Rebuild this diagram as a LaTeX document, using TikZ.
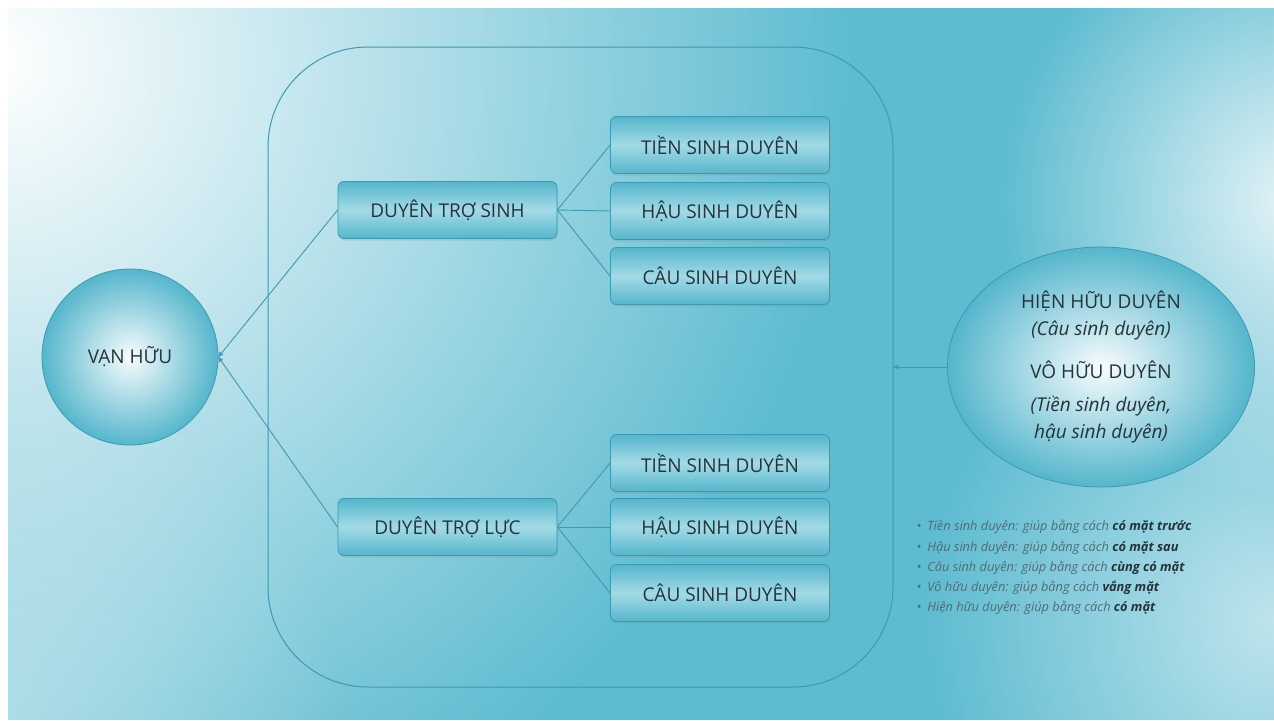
\documentclass[tikz,border=0pt]{standalone}
\usepackage{fontspec}
\setmainfont{Open Sans}
\usetikzlibrary{positioning, shapes.geometric, arrows, shadows, fadings}
\definecolor{myteal}{HTML}{5EBCD1}
\definecolor{boxteal}{HTML}{55B6CC}
\definecolor{mydark}{HTML}{3C9AB2}
\definecolor{mylight}{HTML}{A3DAE6}
\definecolor{mytext}{HTML}{24343A}
\definecolor{mygray}{HTML}{4E6C76}
\tikzfading[name=glow, inner color=transparent!0, outer color=transparent!100]

\begin{document}
\begin{tikzpicture}[x=1pt, y=-1pt,
    conn/.style={draw=mydark, line width=0.9pt},
    duyenbox/.style={draw=mydark, line width=0.8pt, rounded corners=6pt,
        minimum width=219pt, minimum height=57pt,
        top color=boxteal, bottom color=boxteal, middle color=mylight,
        text=mytext, font=\fontsize{19}{22}\selectfont,
        drop shadow={opacity=0.2, shadow xshift=1pt, shadow yshift=-2pt}},
    bubble/.style={draw=mydark, line width=0.8pt, inner color=white!92!mylight, outer color=boxteal,
        text=mytext, font=\fontsize{19}{27}\selectfont, align=center}]

    % background
    \fill[white] (0,0) rectangle (1274,720);
    \begin{scope}
        \clip (8,8) rectangle (1274,720);
        \fill[myteal] (8,8) rectangle (1274,720);
        \fill[white, path fading=glow] (0,60) circle (850);
        \fill[white, path fading=glow, opacity=0.85] (1300,200) circle (300);
        \fill[white, path fading=glow, opacity=0.6] (1274,620) circle (350);
        \fill[white, path fading=glow, opacity=0.35] (0,720) circle (350);
    \end{scope}

    % big frame
    \node[draw=mydark, line width=1pt, rounded corners=100pt,
          minimum width=625pt, minimum height=640pt] (group) at (580.5,367) {};

    \node[bubble, circle, minimum size=176pt] (vanhuu) at (130,357) {VẠN HỮU};

    \node[duyenbox] (trosinh) at (447.5,210) {DUYÊN TRỢ SINH};
    \node[duyenbox] (troluc) at (447.5,527) {DUYÊN TRỢ LỰC};

    \node[duyenbox] (tien1) at (720,145) {TIỀN SINH DUYÊN};
    \node[duyenbox] (hau1) at (720,211) {HẬU SINH DUYÊN};
    \node[duyenbox] (cau1) at (720,276) {CÂU SINH DUYÊN};
    \node[duyenbox] (tien2) at (720,463) {TIỀN SINH DUYÊN};
    \node[duyenbox] (hau2) at (720,527) {HẬU SINH DUYÊN};
    \node[duyenbox] (cau2) at (720,593) {CÂU SINH DUYÊN};

    \node[bubble, ellipse, minimum width=307pt, minimum height=240pt, inner sep=0pt] (huu) at (1101,367)
        {HIỆN HỮU DUYÊN\\ \textit{(Câu sinh duyên)}\\[16pt]
         VÔ HỮU DUYÊN\\[6pt] \textit{(Tiền sinh duyên,}\\ \textit{hậu sinh duyên)}};

    % connectors
    \foreach \kid in {tien1, hau1, cau1}
        \draw[conn] (trosinh.east) -- (\kid.west);
    \foreach \kid in {tien2, hau2, cau2}
        \draw[conn] (troluc.east) -- (\kid.west);
    \draw[conn, ->, >=stealth'] (trosinh.west) -- (vanhuu.east);
    \draw[conn, ->, >=stealth'] (troluc.west) -- (vanhuu.east);
    \draw[conn, ->, >=stealth'] (huu.west) -- (group.east);

    % legend
    \node[anchor=west, align=left, text=mygray, font=\fontsize{12.8}{20.3}\selectfont\itshape] (legend) at (913,567.5)
        {•\hspace{6pt}Tiền sinh duyên: giúp bằng cách \textcolor{mytext}{\textbf{có mặt trước}}\\
         •\hspace{6pt}Hậu sinh duyên: giúp bằng cách \textcolor{mytext}{\textbf{có mặt sau}}\\
         •\hspace{6pt}Câu sinh duyên: giúp bằng cách \textcolor{mytext}{\textbf{cùng có mặt}}\\
         •\hspace{6pt}Vô hữu duyên: giúp bằng cách \textcolor{mytext}{\textbf{vắng mặt}}\\
         •\hspace{6pt}Hiện hữu duyên: giúp bằng cách \textcolor{mytext}{\textbf{có mặt}}};

    \useasboundingbox (0,0) rectangle (1274,720);
\end{tikzpicture}
\end{document}
